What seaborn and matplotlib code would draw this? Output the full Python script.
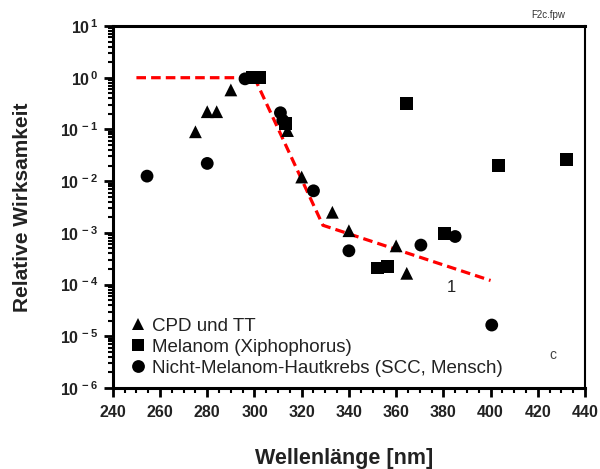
import numpy as np
import pandas as pd
import matplotlib
matplotlib.use("Agg")
import matplotlib.pyplot as plt
import seaborn as sns
from matplotlib.ticker import MultipleLocator, LogLocator, FuncFormatter, NullFormatter

# ---- data ----
cpd_x = [275, 280, 284, 290, 314, 320, 333, 340, 360, 364.5]
cpd_y = [0.09, 0.22, 0.22, 0.58, 0.095, 0.012, 0.0025, 0.0011, 0.00056, 0.000165]

mel_x = [299, 302, 313, 352, 356.5, 364.5, 380.5, 403.5, 432]
mel_y = [1.0, 1.0, 0.13, 0.00021, 0.00022, 0.32, 0.00096, 0.02, 0.026]

nmsc_x = [254.5, 280, 296, 311, 312, 325, 340, 370.5, 385, 400.5]
nmsc_y = [0.0125, 0.022, 0.95, 0.21, 0.15, 0.0065, 0.00045, 0.00058, 0.00085, 1.65e-5]

line_x = [250, 300, 329, 400]
line_y = [1.0, 1.0, 0.0014, 0.00012]

series_names = ["CPD und TT", "Melanom (Xiphophorus)", "Nicht-Melanom-Hautkrebs (SCC, Mensch)"]

df = pd.DataFrame({
    "x": cpd_x + mel_x + nmsc_x,
    "y": cpd_y + mel_y + nmsc_y,
    "series": [series_names[0]] * len(cpd_x) + [series_names[1]] * len(mel_x) + [series_names[2]] * len(nmsc_x),
})
line_df = pd.DataFrame({"x": line_x, "y": line_y})

# ---- style ----
sns.set_style("white")
plt.rcParams["font.family"] = ["Liberation Sans", "DejaVu Sans"]
plt.rcParams["mathtext.fontset"] = "custom"
plt.rcParams["mathtext.rm"] = "Liberation Sans:bold"
plt.rcParams["mathtext.it"] = "Liberation Sans:bold"
plt.rcParams["mathtext.bf"] = "Liberation Sans:bold"

fig = plt.figure(figsize=(6.0, 4.69), dpi=100)
ax = fig.add_axes([0.188, 0.1727, 0.787, 0.7719])

sns.lineplot(data=line_df, x="x", y="y", ax=ax, color="#ff0000", linewidth=2.3,
             linestyle=(0, (3, 1.6)), zorder=3, legend=False)

sns.scatterplot(data=df, x="x", y="y", style="series",
                markers={series_names[0]: "^", series_names[1]: "s", series_names[2]: "o"},
                color="black", s=85, edgecolor="black", linewidth=0, ax=ax, zorder=4)

ax.set_yscale("log")
ax.set_xlim(240, 440)
ax.set_ylim(1e-6, 10)

ax.xaxis.set_major_locator(MultipleLocator(20))
ax.xaxis.set_minor_locator(MultipleLocator(5))
ax.yaxis.set_major_locator(LogLocator(base=10, numticks=20))
ax.yaxis.set_minor_locator(LogLocator(base=10, subs=np.arange(2, 10), numticks=20))
ax.yaxis.set_minor_formatter(NullFormatter())
ax.yaxis.set_major_formatter(FuncFormatter(lambda v, p: r"$10^{\,%d}$" % int(round(np.log10(v)))))

ax.tick_params(axis="both", which="both", bottom=True, left=True, top=False, right=False)
ax.tick_params(axis="both", which="major", direction="out", length=6.5, width=2,
               labelsize=11.5, color="black", labelcolor="#222222", pad=4)
ax.tick_params(axis="both", which="minor", direction="out", length=3.5, width=1.5, color="black")
ax.tick_params(axis="x", which="major", pad=6)
for lab in ax.get_xticklabels():
    lab.set_fontweight("bold")

for side in ["left", "bottom", "top"]:
    ax.spines[side].set_linewidth(2.2)
    ax.spines[side].set_color("black")
ax.spines["right"].set_linewidth(1.5)
ax.spines["right"].set_color("black")

ax.set_xlabel("Wellenlänge [nm]", fontsize=15.5, fontweight="bold", color="#222222")
ax.set_ylabel("Relative Wirksamkeit", fontsize=15, fontweight="bold", labelpad=20, color="#222222")
ax.xaxis.set_label_coords(0.49, -0.165, transform=ax.transAxes)

handles, labels = ax.get_legend_handles_labels()
leg = ax.legend(handles, labels, loc="lower left", frameon=False, fontsize=13.5,
                handletextpad=0.0, labelspacing=0.2, borderaxespad=0.5,
                markerscale=1.0, borderpad=0.1, handlelength=1.5)
for t in leg.get_texts():
    t.set_color("#222222")

ax.text(383.5, 1.2e-4, "1", fontsize=12, ha="center", va="top", color="#222222")
ax.text(426.5, 4.4e-6, "c", fontsize=10, ha="center", va="center", color="#444444")
fig.text(0.913, 0.968, "F2c.fpw", fontsize=7, ha="center", va="center", color="#333333")

fig.savefig("out.png", dpi=100)
